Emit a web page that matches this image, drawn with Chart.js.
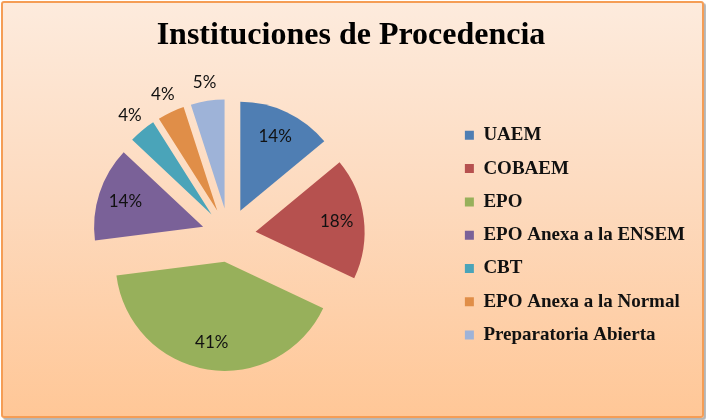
<!DOCTYPE html>
<html lang="es">
<head>
    <meta charset="UTF-8">
    <title>Instituciones de Procedencia</title>
    <script src="https://cdn.jsdelivr.net/npm/chart.js"></script>
    <style>
        body {
            margin: 0;
            padding: 0;
            background: #ffffff;
        }
        .wrap {
            position: relative;
            width: 706px;
            height: 420px;
        }
        .frame {
            position: absolute;
            left: 1px;
            top: 1px;
            width: 699px;
            height: 413px;
            border: 2px solid #F59D55;
            border-radius: 3px;
            background: linear-gradient(to bottom, #FDEBDD 0%, #FDD9BC 50%, #FFC797 100%);
            box-shadow: 2px 2px 1px #B5B5B5;
        }
        canvas {
            position: absolute;
            left: 0;
            top: 0;
        }
    </style>
</head>
<body>
    <div class="wrap">
        <div class="frame"></div>
        <canvas id="pieChart" width="706" height="420"></canvas>
    </div>

    <script>
        // data
        const categories = ['UAEM', 'COBAEM', 'EPO', 'EPO Anexa a la ENSEM', 'CBT', 'EPO Anexa a la Normal', 'Preparatoria Abierta'];
        const percentages = [14, 18, 41, 14, 4, 4, 5];
        const sliceColors = ['#4F7EB3', '#B6514F', '#97B05B', '#7A6198', '#4AA4B9', '#E08E48', '#9EB3D8'];

        const EXPLODE = 27;   // px each slice is pulled out from the centre

        // pull every slice out along its own middle angle
        const explodePlugin = {
            id: 'explode',
            afterDatasetUpdate(chart, args) {
                const meta = chart.getDatasetMeta(args.index);
                meta.data.forEach(arc => {
                    const mid = (arc.startAngle + arc.endAngle) / 2;
                    arc.x += Math.cos(mid) * EXPLODE;
                    arc.y += Math.sin(mid) * EXPLODE;
                });
            }
        };

        // percentage labels, inside big slices and just outside the small ones
        const pctLabels = {
            id: 'pctLabels',
            afterDatasetsDraw(chart) {
                const ctx = chart.ctx;
                const meta = chart.getDatasetMeta(0);
                const total = percentages.reduce((a, b) => a + b, 0);
                ctx.save();
                ctx.font = '17px Lato, "Open Sans", sans-serif';
                ctx.fillStyle = '#111';
                ctx.textAlign = 'center';
                ctx.textBaseline = 'middle';
                meta.data.forEach((arc, i) => {
                    const mid = (arc.startAngle + arc.endAngle) / 2;
                    const r = percentages[i] <= 5 ? arc.outerRadius + 19 : arc.outerRadius * 0.75;
                    const txt = Math.round(percentages[i] / total * 100) + '%';
                    ctx.fillText(txt, arc.x + Math.cos(mid) * r, arc.y + Math.sin(mid) * r);
                });
                ctx.restore();
            }
        };

        const ctx = document.getElementById('pieChart').getContext('2d');

        const chart = new Chart(ctx, {
            type: 'pie',
            data: {
                labels: categories,
                datasets: [{
                    data: percentages,
                    backgroundColor: sliceColors,
                    borderWidth: 0,
                    radius: 109
                }]
            },
            options: {
                responsive: false,
                animation: false,
                layout: {
                    padding: { top: 0, left: 7, right: 11, bottom: 15 }
                },
                plugins: {
                    title: {
                        display: true,
                        text: 'Instituciones de Procedencia',
                        color: '#000',
                        font: { family: '"Liberation Serif", "Times New Roman", serif', size: 32, weight: 'bold' },
                        padding: { top: 17, bottom: 10 }
                    },
                    legend: {
                        position: 'right',
                        fullSize: false,
                        labels: {
                            color: '#111',
                            boxWidth: 9,
                            boxHeight: 9,
                            padding: 14.3,
                            font: { family: '"Liberation Serif", "Times New Roman", serif', size: 19, weight: 'bold' }
                        }
                    },
                    tooltip: { enabled: false }
                }
            },
            plugins: [explodePlugin, pctLabels]
        });
    </script>
</body>
</html>
